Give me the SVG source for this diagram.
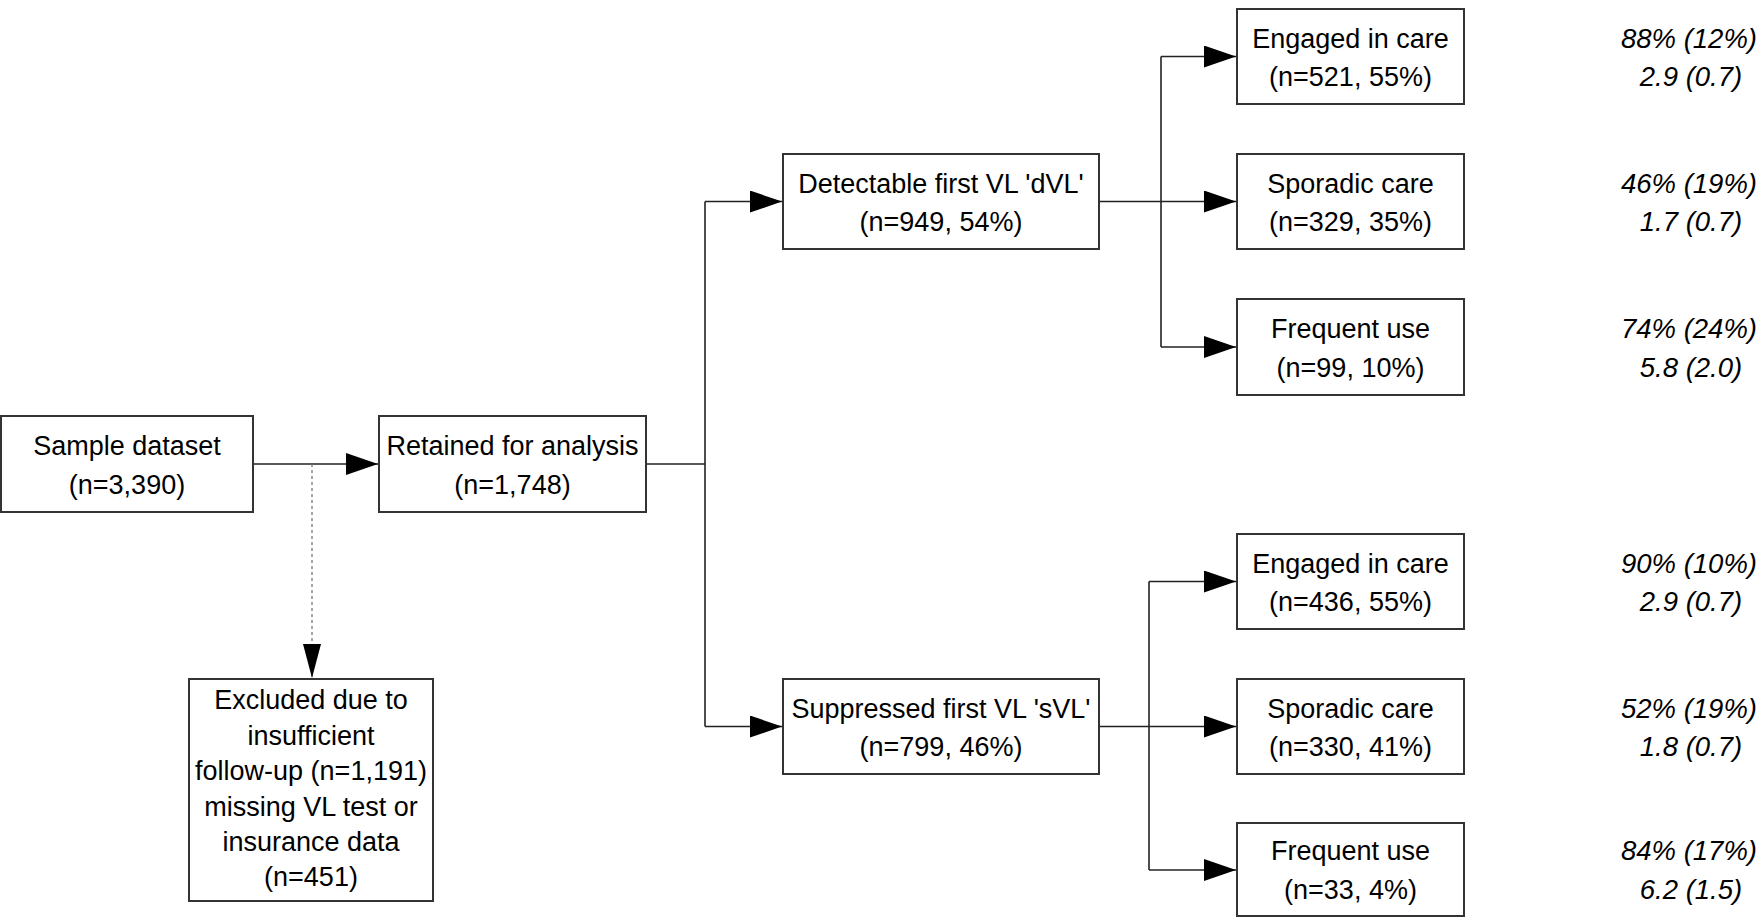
<svg xmlns="http://www.w3.org/2000/svg" width="1763" height="917" viewBox="0 0 1763 917">
<style>
.box{fill:#fff;stroke:#333;stroke-width:2}
.t{font-family:"Liberation Sans",Arial,sans-serif;font-size:27px;fill:#000;text-anchor:middle}
.r{font-family:"Liberation Sans",Arial,sans-serif;font-size:27.5px;font-style:italic;fill:#000;text-anchor:middle}
.c{fill:none;stroke:#222;stroke-width:1.6}
.d{fill:none;stroke:#777;stroke-width:1.3;stroke-dasharray:3,3}
</style>
<defs>
<marker id="ah" markerUnits="userSpaceOnUse" markerWidth="32" markerHeight="22" refX="32" refY="11" orient="auto"><path d="M0,0 L32,11 L0,22 z" fill="#000"/></marker>
<marker id="ahd" markerUnits="userSpaceOnUse" markerWidth="34" markerHeight="18" refX="34" refY="9" orient="auto"><path d="M0,0 L34,9 L0,18 z" fill="#000"/></marker>
</defs>
<rect width="1763" height="917" fill="#fff"/>
<g id="connectors">
<path class="c" d="M253,464 H378" marker-end="url(#ah)"/>
<path class="d" d="M312,464 V678" marker-end="url(#ahd)"/>
<path class="c" d="M646,464 H705"/>
<path class="c" d="M705,201.5 V726.5"/>
<path class="c" d="M705,201.5 H782" marker-end="url(#ah)"/>
<path class="c" d="M705,726.5 H782" marker-end="url(#ah)"/>
<path class="c" d="M1099,201.5 H1161"/>
<path class="c" d="M1161,56.5 V347"/>
<path class="c" d="M1161,56.5 H1236" marker-end="url(#ah)"/>
<path class="c" d="M1161,201.5 H1236" marker-end="url(#ah)"/>
<path class="c" d="M1161,347 H1236" marker-end="url(#ah)"/>
<path class="c" d="M1099,726.5 H1149"/>
<path class="c" d="M1149,581.5 V870"/>
<path class="c" d="M1149,581.5 H1236" marker-end="url(#ah)"/>
<path class="c" d="M1149,726.5 H1236" marker-end="url(#ah)"/>
<path class="c" d="M1149,870 H1236" marker-end="url(#ah)"/>
</g>
<g id="sample"><rect class="box" x="1" y="416" width="252" height="96"/>
<text class="t" x="127" y="455">Sample dataset</text><text class="t" x="127" y="493.5">(n=3,390)</text></g>
<g id="retained"><rect class="box" x="379" y="416" width="267" height="96"/>
<text class="t" x="512.5" y="455">Retained for analysis</text><text class="t" x="512.5" y="493.5">(n=1,748)</text></g>
<g id="excluded"><rect class="box" x="189" y="679" width="244" height="222"/>
<text class="t" x="311" y="709">Excluded due to</text>
<text class="t" x="311" y="744.5">insufficient</text>
<text class="t" x="311" y="780">follow-up (n=1,191)</text>
<text class="t" x="311" y="815.5">missing VL test or</text>
<text class="t" x="311" y="851">insurance data</text>
<text class="t" x="311" y="886">(n=451)</text></g>
<g id="dvl"><rect class="box" x="783" y="154" width="316" height="95"/>
<text class="t" x="941" y="192.5">Detectable first VL 'dVL'</text><text class="t" x="941" y="231">(n=949, 54%)</text></g>
<g id="svl"><rect class="box" x="783" y="679" width="316" height="95"/>
<text class="t" x="941" y="717.5">Suppressed first VL 'sVL'</text><text class="t" x="941" y="756">(n=799, 46%)</text></g>
<g id="d-engaged"><rect class="box" x="1237" y="9" width="227" height="95"/>
<text class="t" x="1350.5" y="47.5">Engaged in care</text><text class="t" x="1350.5" y="86">(n=521, 55%)</text></g>
<g id="d-sporadic"><rect class="box" x="1237" y="154" width="227" height="95"/>
<text class="t" x="1350.5" y="192.5">Sporadic care</text><text class="t" x="1350.5" y="231">(n=329, 35%)</text></g>
<g id="d-frequent"><rect class="box" x="1237" y="299" width="227" height="96"/>
<text class="t" x="1350.5" y="338">Frequent use</text><text class="t" x="1350.5" y="376.5">(n=99, 10%)</text></g>
<g id="s-engaged"><rect class="box" x="1237" y="534" width="227" height="95"/>
<text class="t" x="1350.5" y="572.5">Engaged in care</text><text class="t" x="1350.5" y="611">(n=436, 55%)</text></g>
<g id="s-sporadic"><rect class="box" x="1237" y="679" width="227" height="95"/>
<text class="t" x="1350.5" y="717.5">Sporadic care</text><text class="t" x="1350.5" y="756">(n=330, 41%)</text></g>
<g id="s-frequent"><rect class="box" x="1237" y="823" width="227" height="93"/>
<text class="t" x="1350.5" y="860">Frequent use</text><text class="t" x="1350.5" y="898.5">(n=33, 4%)</text></g>
<g id="stats">
<text class="r" x="1689" y="47.5">88% (12%)</text><text class="r" x="1691" y="86">2.9 (0.7)</text>
<text class="r" x="1689" y="192.5">46% (19%)</text><text class="r" x="1691" y="231">1.7 (0.7)</text>
<text class="r" x="1689" y="338">74% (24%)</text><text class="r" x="1691" y="376.5">5.8 (2.0)</text>
<text class="r" x="1689" y="572.5">90% (10%)</text><text class="r" x="1691" y="611">2.9 (0.7)</text>
<text class="r" x="1689" y="717.5">52% (19%)</text><text class="r" x="1691" y="756">1.8 (0.7)</text>
<text class="r" x="1689" y="860">84% (17%)</text><text class="r" x="1691" y="898.5">6.2 (1.5)</text>
</g>
</svg>
